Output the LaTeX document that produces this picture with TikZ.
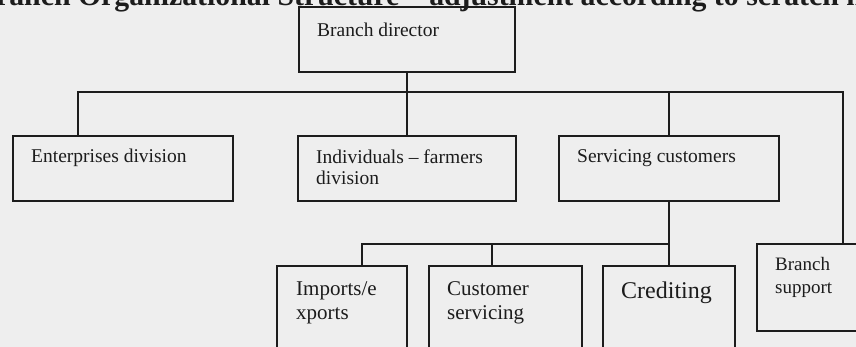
\documentclass[tikz,border=0pt]{standalone}
\usepackage{fontspec}
\setmainfont{Liberation Serif}
\definecolor{paper}{RGB}{238,238,238}
\definecolor{ink}{RGB}{28,28,28}
\begin{document}
\begin{tikzpicture}[x=1pt,y=-1pt,
  box/.style={draw=ink, line width=1.6pt, anchor=north west, inner sep=0pt},
  wire/.style={draw=ink, line width=1.6pt},
  txt/.style={text=ink, inner sep=0pt, anchor=base west, font=\fontsize{19.5}{22}\selectfont},
  txtlow/.style={txt, font=\fontsize{21}{24}\selectfont},
  txtbig/.style={txt, font=\fontsize{24}{28}\selectfont},
  txtsmall/.style={txt, font=\fontsize{19}{22}\selectfont},
  head/.style={text=ink, inner sep=0pt, anchor=base west, font=\bfseries\fontsize{29.8}{34}\selectfont}]
\useasboundingbox (0,0) rectangle (856,347);
\fill[paper] (0,0) rectangle (856,347);
\clip (0,0) rectangle (856,347);

% heading line, cut by the top edge
\node[head] (title) at (-24,6) {Branch Organizational Structure – adjustment according to scratch model};

% boxes
\node[box, minimum width=216pt, minimum height=65pt] (dir) at (298,6) {};
\node[box, minimum width=220pt, minimum height=65pt] (ent) at (12,135) {};
\node[box, minimum width=218pt, minimum height=65pt] (ind) at (297,135) {};
\node[box, minimum width=220pt, minimum height=65pt] (srv) at (558,135) {};
\node[box, minimum width=130pt, minimum height=100pt] (imp) at (276,265) {};
\node[box, minimum width=153pt, minimum height=100pt] (cus) at (428,265) {};
\node[box, minimum width=132pt, minimum height=100pt] (cre) at (602,265) {};
\node[box, minimum width=130pt, minimum height=87pt] (sup) at (756,243) {};

% labels
\node[txt] (dirA) at (317,37) {Branch director};
\node[txt] (entA) at (31,163) {Enterprises division};
\node[txt] (indA) at (316,164) {Individuals – farmers};
\node[txt] (indB) at (316,185) {division};
\node[txt] (srvA) at (577,163) {Servicing customers};
\node[txtlow] (impA) at (296,295) {Imports/e};
\node[txtlow] (impB) at (296,319) {xports};
\node[txtlow] (cusA) at (447,295) {Customer};
\node[txtlow] (cusB) at (447,319) {servicing};
\node[txtbig] (creA) at (621,298) {Crediting};
\node[txtsmall] (supA) at (775,270) {Branch};
\node[txtsmall] (supB) at (775,293) {support};

% upper distribution line
\coordinate (busL) at (78,92);
\coordinate (busR) at (843,92);
\draw[wire] (dir.south) -- (ind.north);
\draw[wire] (busL |- ent.north) -- (busL) -- (busR) -- (busR |- sup.north);
\draw[wire] (srv.north |- busL) -- (srv.north);

% lower distribution line
\coordinate (subL) at (362,244);
\coordinate (subM) at (492,244);
\draw[wire] (srv.south) -- (cre.north);
\draw[wire] (srv.south |- subL) -- (subL) -- (subL |- imp.north);
\draw[wire] (subM) -- (subM |- cus.north);
\end{tikzpicture}
\end{document}
